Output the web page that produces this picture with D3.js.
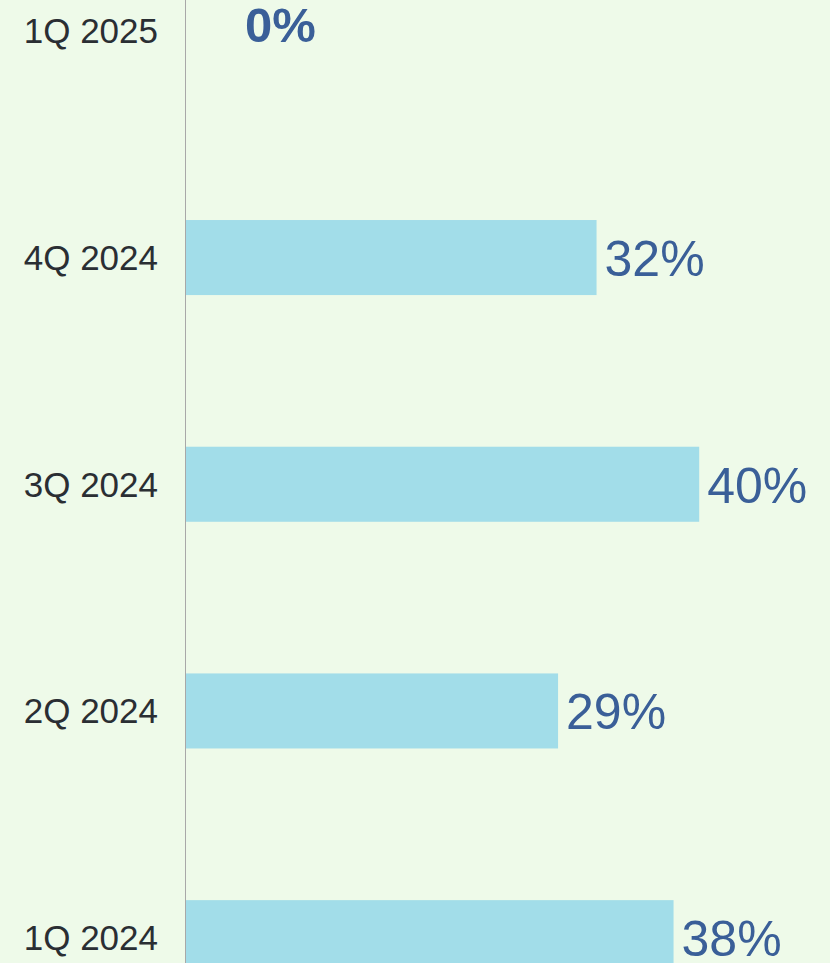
<!DOCTYPE html>
<html>
<head>
<meta charset="utf-8">
<script src="https://cdn.jsdelivr.net/npm/d3@7"></script>
<style>
  html, body { margin: 0; padding: 0; background: #eefae9; }
  svg { display: block; }
</style>
</head>
<body>
<script>
const categories = ["1Q 2025", "4Q 2024", "3Q 2024", "2Q 2024", "1Q 2024"];
const values = [0, 32, 40, 29, 38];
const valueLabels = ["0%", "32%", "40%", "29%", "38%"];

const W = 830, H = 963;
const svg = d3.select("body").append("svg").attr("width", W).attr("height", H);
svg.append("rect").attr("width", W).attr("height", H).attr("fill", "#eefae9");

const x = d3.scaleLinear().domain([0, 50]).range([186, 827.5]);
const y = d3.scaleBand().domain(categories).range([-82.5, 1051])
  .paddingInner(0.669).paddingOuter(0.3345);

const data = categories.map((c, i) => ({ c, v: values[i], label: valueLabels[i] }));

svg.selectAll("rect.bar").data(data.filter(d => d.v > 0)).join("rect")
  .attr("class", "bar")
  .attr("x", x(0))
  .attr("y", d => y(d.c))
  .attr("width", d => x(d.v) - x(0))
  .attr("height", y.bandwidth())
  .attr("fill", "#a2dde9");

// axis line
svg.append("line")
  .attr("x1", x(0) - 0.5).attr("x2", x(0) - 0.5)
  .attr("y1", 0).attr("y2", H)
  .attr("stroke", "#a8a8a8").attr("stroke-width", 1);

// category labels
svg.selectAll("text.cat").data(data).join("text")
  .attr("class", "cat")
  .attr("x", x(0) - 28)
  .attr("y", d => y(d.c) + y.bandwidth() / 2 + 12.5)
  .attr("text-anchor", "end")
  .attr("font-family", "'Liberation Sans', Arial, sans-serif")
  .attr("font-size", 35)
  .attr("fill", "#2a2e33")
  .text(d => d.c);

// value labels
svg.selectAll("text.val").data(data).join("text")
  .attr("class", "val")
  .attr("x", d => d.v === 0 ? x(0) + 59 : x(d.v) + 8)
  .attr("y", d => y(d.c) + y.bandwidth() / 2 + (d.v === 0 ? 11 : 18.5))
  .attr("font-family", "'Liberation Sans', Arial, sans-serif")
  .attr("font-size", d => d.v === 0 ? 49 : 50)
  .attr("font-weight", d => d.v === 0 ? "bold" : "normal")
  .attr("fill", "#3a5f98")
  .text(d => d.label);
</script>
</body>
</html>
